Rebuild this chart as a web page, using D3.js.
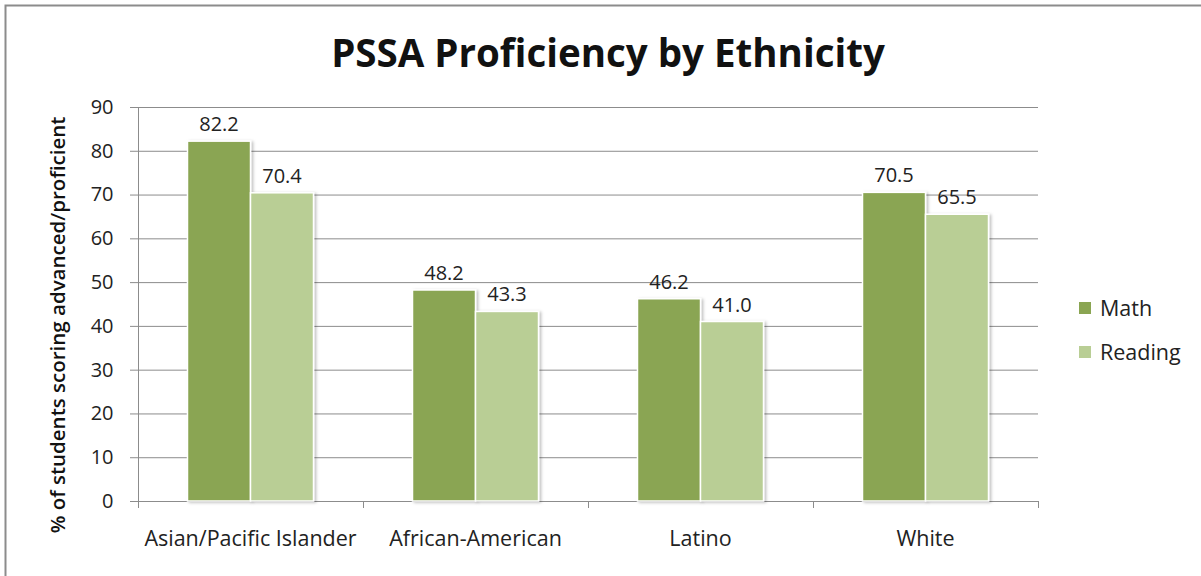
<!DOCTYPE html>
<html><head><meta charset="utf-8">
<script src="https://cdn.jsdelivr.net/npm/d3@7"></script>
<style>body{margin:0;background:#fff}svg{display:block}</style>
</head><body>
<svg id="c" width="1201" height="576"></svg>
<script>
const categories = ["Asian/Pacific Islander", "African-American", "Latino", "White"];
const seriesNames = ["Math", "Reading"];
const mathValues = [82.2, 48.2, 46.2, 70.5];
const readingValues = [70.4, 43.3, 41.0, 65.5];
const yTicks = [0, 10, 20, 30, 40, 50, 60, 70, 80, 90];
const colors = ["#8aa552", "#b9ce95"];
const font = "Open Sans, Liberation Sans, sans-serif";

const svg = d3.select("#c");
const defs = svg.append("defs");
const f = defs.append("filter").attr("id", "sh").attr("x", "-20%").attr("y", "-20%").attr("width", "140%").attr("height", "140%");
f.append("feDropShadow").attr("dx", 2).attr("dy", 1).attr("stdDeviation", 1.5).attr("flood-color", "#000").attr("flood-opacity", 0.25);

// frame
svg.append("rect").attr("x", 5.5).attr("y", 5.5).attr("width", 1300).attr("height", 700)
  .attr("fill", "none").attr("stroke", "#8c8c8c").attr("stroke-width", 2);

const L = 138, R = 1038, T = 107, B = 501;
const y = d3.scaleLinear().domain([0, 90]).range([B, T]);
const x0 = d3.scaleBand().domain(categories).range([L, R]).paddingInner(0.44).paddingOuter(0.22);
const x1 = d3.scaleBand().domain(seriesNames).range([0, x0.bandwidth()]).padding(0);

// gridlines
svg.append("g").selectAll("line").data(yTicks).join("line")
  .attr("x1", L - 8).attr("x2", R).attr("y1", d => y(d) + 0.5).attr("y2", d => y(d) + 0.5)
  .attr("stroke", "#8c8c8c").attr("stroke-width", 1);

// y axis
const yAxis = svg.append("g").attr("transform", `translate(${L + 0.5},0)`)
  .call(d3.axisLeft(y).tickValues(yTicks).tickSize(0).tickPadding(25));
yAxis.select(".domain").attr("stroke", "#8c8c8c").attr("d", `M0,${T}V${B + 7}`);
yAxis.selectAll("text").attr("font-family", font).attr("font-size", 20).attr("fill", "#222");

// x axis
const bounds = [L, ...categories.map(c => x0(c) + x0.bandwidth() / 2 + x0.step() / 2)];
svg.append("g").selectAll("line").data(bounds).join("line")
  .attr("x1", d => Math.round(d) + 0.5).attr("x2", d => Math.round(d) + 0.5)
  .attr("y1", B).attr("y2", B + 7).attr("stroke", "#8c8c8c");
const xAxis = svg.append("g").attr("transform", `translate(0,${B})`)
  .call(d3.axisBottom(x0).tickSize(0).tickPadding(30));
xAxis.select(".domain").remove();
xAxis.selectAll("text").attr("font-family", font).attr("font-size", 21.5).attr("fill", "#222");

// bars
const rows = categories.map((c, i) => ({ c, vals: [mathValues[i], readingValues[i]] }));
const g = svg.append("g").selectAll("g").data(rows).join("g")
  .attr("transform", d => `translate(${x0(d.c)},0)`);
g.selectAll("rect").data(d => d.vals.map((v, j) => ({ v, s: seriesNames[j], j }))).join("rect")
  .attr("x", d => x1(d.s)).attr("width", x1.bandwidth())
  .attr("y", d => y(d.v)).attr("height", d => B - y(d.v))
  .attr("fill", d => colors[d.j]).attr("stroke", "#fff").attr("stroke-width", 1.5)
  .attr("filter", "url(#sh)");
g.selectAll("text").data(d => d.vals.map((v, j) => ({ v, s: seriesNames[j] }))).join("text")
  .attr("x", d => x1(d.s) + x1.bandwidth() / 2).attr("y", d => y(d.v) - 10)
  .attr("text-anchor", "middle").attr("font-family", font).attr("font-size", 20).attr("fill", "#222")
  .text(d => d.v.toFixed(1));

// title
svg.append("text").attr("x", 608).attr("y", 67).attr("text-anchor", "middle")
  .attr("font-family", font).attr("font-weight", "bold").attr("font-size", 38.5).attr("fill", "#111")
  .text("PSSA Proficiency by Ethnicity");

// y title
svg.append("text").attr("transform", "translate(65,325) rotate(-90)").attr("text-anchor", "middle")
  .attr("font-family", font).attr("font-weight", 600).attr("font-size", 20.5).attr("fill", "#111")
  .text("% of students scoring advanced/proficient");

// legend
const lg = svg.append("g").selectAll("g").data(seriesNames).join("g")
  .attr("transform", (d, i) => `translate(1079,${302 + i * 44})`);
lg.append("rect").attr("width", 12).attr("height", 12).attr("fill", (d, i) => colors[i]);
lg.append("text").attr("x", 21).attr("y", 14).attr("font-family", font).attr("font-size", 21.5).attr("fill", "#222").text(d => d);
</script>
</body></html>
